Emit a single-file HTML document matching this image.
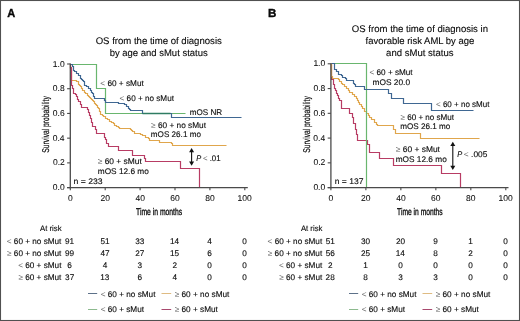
<!DOCTYPE html>
<html><head><meta charset="utf-8"><style>
html,body{margin:0;padding:0;background:#fff;}
#w{width:520px;height:321px;will-change:transform;background:#fff;}
svg{display:block;}
text{font-family:"Liberation Sans",sans-serif;fill:#0a0a0a;text-rendering:geometricPrecision;stroke:#0a0a0a;stroke-width:0.12px;}
.sym{fill:#666;stroke:#666;stroke-width:0;}
</style></head><body>
<div id="w">
<svg width="520" height="321" viewBox="0 0 520 321">
<rect x="0" y="0" width="520" height="321" fill="#fff"/>
<path d="M70.50,64.50V65.50V66.50V68.50H71.50V69.50V70.50V72.50V73.50V74.50V76.50V77.50V78.50V80.50H75.50H76.50V81.50H78.50V83.50V84.50H79.50V85.50H80.50V86.50H81.50V87.50V88.50H82.50V90.50H84.50V91.50V92.50H85.50V93.50H87.50V95.50H88.50V96.50H89.50V97.50H90.50V98.50H91.50V99.50H92.50V100.50H93.50V101.50H94.50V103.50H95.50V104.50H96.50V105.50H97.50V107.50H98.50V108.50H99.50V109.50V111.50H100.50V112.50V113.50V114.50H102.50V115.50H103.50V116.50H105.50V118.50H107.50V119.50H109.50V121.50H111.50V122.50H113.50V123.50H114.50V125.50H116.50V126.50H118.50V127.50H119.50V128.50H129.50H130.50V129.50H131.50V130.50H132.50V131.50H134.50V133.50H138.50H140.50V134.50H142.50V135.50H145.50V137.50H148.50V138.50H149.50V140.50H158.50H159.50V142.50H171.50V143.50H172.50V144.50V145.50H226.50" fill="none" stroke="#e0a64c" stroke-width="1.2"/>
<path d="M70.50,64.50V67.50H71.50V71.50V75.50V78.50V81.50V85.50H72.50V88.50H73.50V93.50H75.50V94.50H76.50V96.50H77.50V99.50H78.50V101.50H80.50V104.50H81.50V107.50H86.50H87.50V109.50H88.50V110.50V112.50H89.50V115.50H90.50V118.50H91.50V122.50H92.50V126.50H95.50V129.50H96.50V133.50H104.50V134.50V137.50H105.50V139.50H106.50V143.50H108.50V146.50H117.50H118.50V150.50H132.50V155.50H144.50V158.50H145.50V161.50H180.50V164.50V168.50H199.50V187.50" fill="none" stroke="#b83c64" stroke-width="1.2"/>
<path d="M70.50,64.50H96.50V88.50H105.50V113.50H185.50" fill="none" stroke="#69b66e" stroke-width="1.2"/>
<path d="M70.50,64.50H71.50H72.50V66.50H73.50V67.50V68.50V70.50H74.50V71.50H76.50V73.50H78.50V75.50H80.50V76.50V78.50H81.50V79.50H82.50V80.50H83.50V81.50H84.50V83.50V85.50H86.50V86.50H88.50V88.50H90.50V90.50H91.50V92.50H92.50V93.50H93.50V95.50V96.50H94.50V98.50H103.50H104.50V100.50H105.50V102.50H117.50H118.50V103.50H124.50V104.50H126.50V106.50H128.50V108.50H129.50V109.50H130.50V110.50H142.50V111.50V113.50H170.50H171.50V114.50V115.50V117.50H241.50" fill="none" stroke="#3f6792" stroke-width="1.2"/>
<path d="M142.5,113.5H170.5" stroke="#2f7c62" stroke-width="1.5" fill="none"/>
<path d="M331.50,63.50V67.50V72.50V75.50V79.50H333.50V84.50H334.50V88.50H335.50V90.50H336.50V93.50H337.50V95.50H338.50V98.50H339.50V100.50H341.50V108.50H349.50V113.50H352.50V117.50H353.50V123.50H355.50V129.50H356.50V134.50H357.50V140.50H366.50H367.50V144.50H369.50V146.50V152.50H378.50H379.50V158.50H393.50V161.50V165.50H441.50V169.50V173.50H460.50V187.50" fill="none" stroke="#b83c64" stroke-width="1.2"/>
<path d="M331.50,63.50V65.50V67.50V70.50V72.50V74.50V76.50H332.50V78.50H335.50H338.50V79.50H339.50V81.50H341.50V83.50H342.50V84.50H344.50V86.50H346.50V88.50H348.50V90.50H349.50V92.50H352.50V94.50H354.50V96.50H356.50V98.50H357.50V100.50H358.50V102.50H359.50V104.50H361.50V106.50H362.50V108.50H364.50V111.50H366.50V113.50H368.50V115.50H369.50V117.50H371.50V119.50H374.50V122.50H376.50V124.50H377.50V125.50H393.50V126.50V129.50H395.50V131.50V133.50H420.50V135.50V138.50H479.50" fill="none" stroke="#e0a64c" stroke-width="1.2"/>
<path d="M331.50,63.50H366.50V187.50" fill="none" stroke="#69b66e" stroke-width="1.2"/>
<path d="M331.50,63.50H334.50V66.50V69.50H336.50V70.50V71.50H338.50V73.50V74.50H341.50V75.50H342.50V77.50H345.50V78.50H346.50V80.50H351.50H353.50V83.50H354.50V84.50H355.50V86.50H363.50H364.50V89.50H388.50V91.50V93.50H391.50V94.50V96.50V98.50H403.50V100.50V103.50H431.50V105.50V107.50V110.50H473.50" fill="none" stroke="#3f6792" stroke-width="1.2"/>
<line x1="191.6" y1="151.7" x2="191.6" y2="162.10000000000002" stroke="#111" stroke-width="1.1"/>
<path d="M191.6,148.0 L194.1,152.2 L189.1,152.2 Z" fill="#111"/>
<path d="M191.6,165.8 L194.1,161.60000000000002 L189.1,161.60000000000002 Z" fill="#111"/>
<line x1="452.8" y1="145.5" x2="452.8" y2="166.20000000000002" stroke="#111" stroke-width="1.1"/>
<path d="M452.8,141.8 L455.3,146.0 L450.3,146.0 Z" fill="#111"/>
<path d="M452.8,169.9 L455.3,165.70000000000002 L450.3,165.70000000000002 Z" fill="#111"/>
<line x1="70.30" y1="63.50" x2="70.30" y2="188.20" stroke="#4a4a4a" stroke-width="1.3"/>
<line x1="67.10" y1="187.60" x2="247.80" y2="187.60" stroke="#4a4a4a" stroke-width="1.3"/>
<line x1="67.10" y1="187.60" x2="70.30" y2="187.60" stroke="#4a4a4a" stroke-width="1.1"/>
<line x1="67.10" y1="162.88" x2="70.30" y2="162.88" stroke="#4a4a4a" stroke-width="1.1"/>
<line x1="67.10" y1="138.16" x2="70.30" y2="138.16" stroke="#4a4a4a" stroke-width="1.1"/>
<line x1="67.10" y1="113.44" x2="70.30" y2="113.44" stroke="#4a4a4a" stroke-width="1.1"/>
<line x1="67.10" y1="88.72" x2="70.30" y2="88.72" stroke="#4a4a4a" stroke-width="1.1"/>
<line x1="67.10" y1="64.00" x2="70.30" y2="64.00" stroke="#4a4a4a" stroke-width="1.1"/>
<line x1="70.30" y1="187.60" x2="70.30" y2="190.20" stroke="#4a4a4a" stroke-width="1.1"/>
<line x1="105.20" y1="187.60" x2="105.20" y2="190.20" stroke="#4a4a4a" stroke-width="1.1"/>
<line x1="140.10" y1="187.60" x2="140.10" y2="190.20" stroke="#4a4a4a" stroke-width="1.1"/>
<line x1="175.00" y1="187.60" x2="175.00" y2="190.20" stroke="#4a4a4a" stroke-width="1.1"/>
<line x1="209.90" y1="187.60" x2="209.90" y2="190.20" stroke="#4a4a4a" stroke-width="1.1"/>
<line x1="244.80" y1="187.60" x2="244.80" y2="190.20" stroke="#4a4a4a" stroke-width="1.1"/>
<line x1="330.90" y1="63.30" x2="330.90" y2="188.20" stroke="#4a4a4a" stroke-width="1.3"/>
<line x1="327.70" y1="187.60" x2="508.50" y2="187.60" stroke="#4a4a4a" stroke-width="1.3"/>
<line x1="327.70" y1="187.60" x2="330.90" y2="187.60" stroke="#4a4a4a" stroke-width="1.1"/>
<line x1="327.70" y1="162.84" x2="330.90" y2="162.84" stroke="#4a4a4a" stroke-width="1.1"/>
<line x1="327.70" y1="138.08" x2="330.90" y2="138.08" stroke="#4a4a4a" stroke-width="1.1"/>
<line x1="327.70" y1="113.32" x2="330.90" y2="113.32" stroke="#4a4a4a" stroke-width="1.1"/>
<line x1="327.70" y1="88.56" x2="330.90" y2="88.56" stroke="#4a4a4a" stroke-width="1.1"/>
<line x1="327.70" y1="63.80" x2="330.90" y2="63.80" stroke="#4a4a4a" stroke-width="1.1"/>
<line x1="330.90" y1="187.60" x2="330.90" y2="190.20" stroke="#4a4a4a" stroke-width="1.1"/>
<line x1="365.88" y1="187.60" x2="365.88" y2="190.20" stroke="#4a4a4a" stroke-width="1.1"/>
<line x1="400.86" y1="187.60" x2="400.86" y2="190.20" stroke="#4a4a4a" stroke-width="1.1"/>
<line x1="435.84" y1="187.60" x2="435.84" y2="190.20" stroke="#4a4a4a" stroke-width="1.1"/>
<line x1="470.82" y1="187.60" x2="470.82" y2="190.20" stroke="#4a4a4a" stroke-width="1.1"/>
<line x1="505.80" y1="187.60" x2="505.80" y2="190.20" stroke="#4a4a4a" stroke-width="1.1"/>
<line x1="88.00" y1="293.50" x2="97.20" y2="293.50" stroke="#5d7189" stroke-width="1.0"/>
<line x1="161.50" y1="293.50" x2="171.20" y2="293.50" stroke="#dfbb82" stroke-width="1.0"/>
<line x1="88.00" y1="309.50" x2="97.20" y2="309.50" stroke="#8cba8e" stroke-width="1.0"/>
<line x1="161.50" y1="309.50" x2="171.20" y2="309.50" stroke="#a8496e" stroke-width="1.0"/>
<line x1="349.00" y1="293.50" x2="358.20" y2="293.50" stroke="#5d7189" stroke-width="1.0"/>
<line x1="422.50" y1="293.50" x2="432.20" y2="293.50" stroke="#dfbb82" stroke-width="1.0"/>
<line x1="349.00" y1="309.50" x2="358.20" y2="309.50" stroke="#8cba8e" stroke-width="1.0"/>
<line x1="422.50" y1="309.50" x2="432.20" y2="309.50" stroke="#a8496e" stroke-width="1.0"/>
<text x="52.80" y="190.20" font-size="8.5" style="stroke-width:0.06px">0.0</text>
<text x="52.91" y="165.48" font-size="8.5" style="stroke-width:0.06px">0.2</text>
<text x="52.72" y="140.76" font-size="8.5" style="stroke-width:0.06px">0.4</text>
<text x="52.85" y="116.04" font-size="8.5" style="stroke-width:0.06px">0.6</text>
<text x="52.85" y="91.32" font-size="8.5" style="stroke-width:0.06px">0.8</text>
<text x="52.80" y="66.60" font-size="8.5" style="stroke-width:0.06px">1.0</text>
<text x="67.93" y="201.20" font-size="8.5" style="stroke-width:0.06px">0</text>
<text x="100.43" y="201.20" font-size="8.5" style="stroke-width:0.06px">20</text>
<text x="135.45" y="201.20" font-size="8.5" style="stroke-width:0.06px">40</text>
<text x="170.23" y="201.20" font-size="8.5" style="stroke-width:0.06px">60</text>
<text x="205.16" y="201.20" font-size="8.5" style="stroke-width:0.06px">80</text>
<text x="237.55" y="201.20" font-size="8.5" style="stroke-width:0.06px">100</text>
<text x="313.40" y="190.20" font-size="8.5" style="stroke-width:0.06px">0.0</text>
<text x="313.51" y="165.44" font-size="8.5" style="stroke-width:0.06px">0.2</text>
<text x="313.32" y="140.68" font-size="8.5" style="stroke-width:0.06px">0.4</text>
<text x="313.45" y="115.92" font-size="8.5" style="stroke-width:0.06px">0.6</text>
<text x="313.45" y="91.16" font-size="8.5" style="stroke-width:0.06px">0.8</text>
<text x="313.40" y="66.40" font-size="8.5" style="stroke-width:0.06px">1.0</text>
<text x="328.53" y="201.20" font-size="8.5" style="stroke-width:0.06px">0</text>
<text x="361.11" y="201.20" font-size="8.5" style="stroke-width:0.06px">20</text>
<text x="396.21" y="201.20" font-size="8.5" style="stroke-width:0.06px">40</text>
<text x="431.07" y="201.20" font-size="8.5" style="stroke-width:0.06px">60</text>
<text x="466.08" y="201.20" font-size="8.5" style="stroke-width:0.06px">80</text>
<text x="498.55" y="201.20" font-size="8.5" style="stroke-width:0.06px">100</text>
<text x="7.32" y="16.80" font-size="11.6" textLength="7.98" lengthAdjust="spacingAndGlyphs" font-weight="700" fill="#000" style="stroke:#000;stroke-width:0.35px">A</text>
<text x="267.91" y="16.90" font-size="11.6" textLength="8.41" lengthAdjust="spacingAndGlyphs" font-weight="700" fill="#000" style="stroke:#000;stroke-width:0.35px">B</text>
<text x="95.64" y="43.80" font-size="9.6" textLength="126.19" lengthAdjust="spacingAndGlyphs">OS from the time of diagnosis</text>
<text x="109.68" y="55.60" font-size="9.6" textLength="98.05" lengthAdjust="spacingAndGlyphs">by age and sMut status</text>
<text x="351.85" y="32.00" font-size="9.6" textLength="136.17" lengthAdjust="spacingAndGlyphs">OS from the time of diagnosis in</text>
<text x="365.56" y="43.70" font-size="9.6" textLength="108.76" lengthAdjust="spacingAndGlyphs">favorable risk AML by age</text>
<text x="386.09" y="55.60" font-size="9.6" textLength="67.43" lengthAdjust="spacingAndGlyphs">and sMut status</text>
<text x="136.05" y="214.90" font-size="9.8" textLength="46.10" lengthAdjust="spacingAndGlyphs" style="stroke-width:0.32px">Time in months</text>
<text x="397.05" y="214.50" font-size="9.8" textLength="45.59" lengthAdjust="spacingAndGlyphs" style="stroke-width:0.32px">Time in months</text>
<text transform="translate(49.00,152.70) rotate(-90)" x="0" y="0" font-size="9.8" textLength="56.52" lengthAdjust="spacingAndGlyphs" style="stroke-width:0.2px">Survival probability</text>
<text transform="translate(309.80,152.70) rotate(-90)" x="0" y="0" font-size="9.8" textLength="56.52" lengthAdjust="spacingAndGlyphs" style="stroke-width:0.2px">Survival probability</text>
<text x="100.29" y="86.20" font-size="8.2" textLength="43.48" lengthAdjust="spacingAndGlyphs"><tspan class="sym">&lt;</tspan> 60 + sMut</text>
<text x="119.59" y="100.80" font-size="8.2" textLength="54.38" lengthAdjust="spacingAndGlyphs"><tspan class="sym">&lt;</tspan> 60 + no sMut</text>
<text x="189.75" y="115.20" font-size="8.2" textLength="32.43" lengthAdjust="spacingAndGlyphs">mOS NR</text>
<text x="151.13" y="128.10" font-size="8.2" textLength="54.84" lengthAdjust="spacingAndGlyphs"><tspan class="sym">≥</tspan> 60 + no sMut</text>
<text x="150.85" y="136.80" font-size="8.2" textLength="50.09" lengthAdjust="spacingAndGlyphs">mOS 26.1 mo</text>
<text x="97.73" y="163.80" font-size="8.2" textLength="44.04" lengthAdjust="spacingAndGlyphs"><tspan class="sym">≥</tspan> 60 + sMut</text>
<text x="97.74" y="173.80" font-size="8.2" textLength="51.10" lengthAdjust="spacingAndGlyphs">mOS 12.6 mo</text>
<text x="73.51" y="183.80" font-size="8.2" textLength="29.17" lengthAdjust="spacingAndGlyphs">n = 233</text>
<text x="196.28" y="160.70" font-size="8.2" textLength="4.98" lengthAdjust="spacingAndGlyphs" font-style="italic">P</text>
<text x="202.91" y="160.70" font-size="8.2" textLength="17.68" lengthAdjust="spacingAndGlyphs"><tspan class="sym">&lt;</tspan> .01</text>
<text x="369.49" y="75.20" font-size="8.2" textLength="43.18" lengthAdjust="spacingAndGlyphs"><tspan class="sym">&lt;</tspan> 60 + sMut</text>
<text x="372.54" y="85.20" font-size="8.2" textLength="37.49" lengthAdjust="spacingAndGlyphs">mOS 20.0</text>
<text x="436.00" y="106.90" font-size="8.2" textLength="53.47" lengthAdjust="spacingAndGlyphs"><tspan class="sym">&lt;</tspan> 60 + no sMut</text>
<text x="400.54" y="119.90" font-size="8.2" textLength="53.53" lengthAdjust="spacingAndGlyphs"><tspan class="sym">≥</tspan> 60 + no sMut</text>
<text x="400.25" y="129.40" font-size="8.2" textLength="50.09" lengthAdjust="spacingAndGlyphs">mOS 26.1 mo</text>
<text x="395.83" y="152.10" font-size="8.2" textLength="44.14" lengthAdjust="spacingAndGlyphs"><tspan class="sym">≥</tspan> 60 + sMut</text>
<text x="395.74" y="161.90" font-size="8.2" textLength="51.00" lengthAdjust="spacingAndGlyphs">mOS 12.6 mo</text>
<text x="334.72" y="183.70" font-size="8.2" textLength="28.72" lengthAdjust="spacingAndGlyphs">n = 137</text>
<text x="457.28" y="157.20" font-size="8.2" textLength="4.98" lengthAdjust="spacingAndGlyphs" font-style="italic">P</text>
<text x="463.88" y="157.20" font-size="8.2" textLength="23.46" lengthAdjust="spacingAndGlyphs"><tspan class="sym">&lt;</tspan> .005</text>
<text x="40.08" y="230.80" font-size="8.0" textLength="21.52" lengthAdjust="spacingAndGlyphs">At risk</text>
<text x="6.77" y="243.60" font-size="8.2"><tspan class="sym">&lt;</tspan> 60 + no sMut</text>
<text x="65.05" y="243.60" font-size="8.2">91</text>
<text x="100.38" y="243.60" font-size="8.2">51</text>
<text x="135.27" y="243.60" font-size="8.2">33</text>
<text x="169.95" y="243.60" font-size="8.2">14</text>
<text x="207.34" y="243.60" font-size="8.2">4</text>
<text x="242.21" y="243.60" font-size="8.2">0</text>
<text x="7.05" y="255.90" font-size="8.2"><tspan class="sym">≥</tspan> 60 + no sMut</text>
<text x="65.04" y="255.90" font-size="8.2">99</text>
<text x="100.46" y="255.90" font-size="8.2">47</text>
<text x="135.25" y="255.90" font-size="8.2">27</text>
<text x="170.01" y="255.90" font-size="8.2">15</text>
<text x="207.29" y="255.90" font-size="8.2">6</text>
<text x="242.21" y="255.90" font-size="8.2">0</text>
<text x="18.17" y="268.10" font-size="8.2"><tspan class="sym">&lt;</tspan> 60 + sMut</text>
<text x="67.29" y="268.10" font-size="8.2">6</text>
<text x="102.65" y="268.10" font-size="8.2">4</text>
<text x="137.55" y="268.10" font-size="8.2">3</text>
<text x="172.42" y="268.10" font-size="8.2">2</text>
<text x="207.31" y="268.10" font-size="8.2">0</text>
<text x="242.21" y="268.10" font-size="8.2">0</text>
<text x="18.45" y="280.40" font-size="8.2"><tspan class="sym">≥</tspan> 60 + sMut</text>
<text x="65.10" y="280.40" font-size="8.2">37</text>
<text x="100.22" y="280.40" font-size="8.2">13</text>
<text x="137.49" y="280.40" font-size="8.2">6</text>
<text x="172.44" y="280.40" font-size="8.2">4</text>
<text x="207.31" y="280.40" font-size="8.2">0</text>
<text x="242.21" y="280.40" font-size="8.2">0</text>
<text x="300.88" y="230.80" font-size="8.0" textLength="21.52" lengthAdjust="spacingAndGlyphs">At risk</text>
<text x="267.57" y="243.60" font-size="8.2"><tspan class="sym">&lt;</tspan> 60 + no sMut</text>
<text x="325.68" y="243.60" font-size="8.2">51</text>
<text x="361.03" y="243.60" font-size="8.2">30</text>
<text x="395.96" y="243.60" font-size="8.2">20</text>
<text x="433.25" y="243.60" font-size="8.2">9</text>
<text x="468.13" y="243.60" font-size="8.2">1</text>
<text x="503.21" y="243.60" font-size="8.2">0</text>
<text x="267.85" y="255.90" font-size="8.2"><tspan class="sym">≥</tspan> 60 + no sMut</text>
<text x="325.66" y="255.90" font-size="8.2">56</text>
<text x="360.99" y="255.90" font-size="8.2">25</text>
<text x="395.81" y="255.90" font-size="8.2">14</text>
<text x="433.26" y="255.90" font-size="8.2">8</text>
<text x="468.24" y="255.90" font-size="8.2">2</text>
<text x="503.21" y="255.90" font-size="8.2">0</text>
<text x="278.97" y="268.10" font-size="8.2"><tspan class="sym">&lt;</tspan> 60 + sMut</text>
<text x="327.92" y="268.10" font-size="8.2">2</text>
<text x="363.19" y="268.10" font-size="8.2">1</text>
<text x="398.27" y="268.10" font-size="8.2">0</text>
<text x="433.25" y="268.10" font-size="8.2">0</text>
<text x="468.23" y="268.10" font-size="8.2">0</text>
<text x="503.21" y="268.10" font-size="8.2">0</text>
<text x="279.25" y="280.40" font-size="8.2"><tspan class="sym">≥</tspan> 60 + sMut</text>
<text x="325.62" y="280.40" font-size="8.2">28</text>
<text x="363.30" y="280.40" font-size="8.2">8</text>
<text x="398.31" y="280.40" font-size="8.2">3</text>
<text x="433.28" y="280.40" font-size="8.2">3</text>
<text x="468.23" y="280.40" font-size="8.2">0</text>
<text x="503.21" y="280.40" font-size="8.2">0</text>
<text x="100.69" y="296.60" font-size="8.2" textLength="54.78" lengthAdjust="spacingAndGlyphs"><tspan class="sym">&lt;</tspan> 60 + no sMut</text>
<text x="174.73" y="296.60" font-size="8.2" textLength="54.64" lengthAdjust="spacingAndGlyphs"><tspan class="sym">≥</tspan> 60 + no sMut</text>
<text x="100.69" y="311.90" font-size="8.2" textLength="43.38" lengthAdjust="spacingAndGlyphs"><tspan class="sym">&lt;</tspan> 60 + sMut</text>
<text x="174.73" y="311.90" font-size="8.2" textLength="43.14" lengthAdjust="spacingAndGlyphs"><tspan class="sym">≥</tspan> 60 + sMut</text>
<text x="361.69" y="296.60" font-size="8.2" textLength="54.78" lengthAdjust="spacingAndGlyphs"><tspan class="sym">&lt;</tspan> 60 + no sMut</text>
<text x="435.73" y="296.60" font-size="8.2" textLength="54.64" lengthAdjust="spacingAndGlyphs"><tspan class="sym">≥</tspan> 60 + no sMut</text>
<text x="361.69" y="311.90" font-size="8.2" textLength="43.38" lengthAdjust="spacingAndGlyphs"><tspan class="sym">&lt;</tspan> 60 + sMut</text>
<text x="435.73" y="311.90" font-size="8.2" textLength="43.14" lengthAdjust="spacingAndGlyphs"><tspan class="sym">≥</tspan> 60 + sMut</text>
<rect x="0.5" y="0.5" width="519" height="320" fill="none" stroke="#505050" stroke-width="1.1"/>
</svg>
</div>
</body></html>
